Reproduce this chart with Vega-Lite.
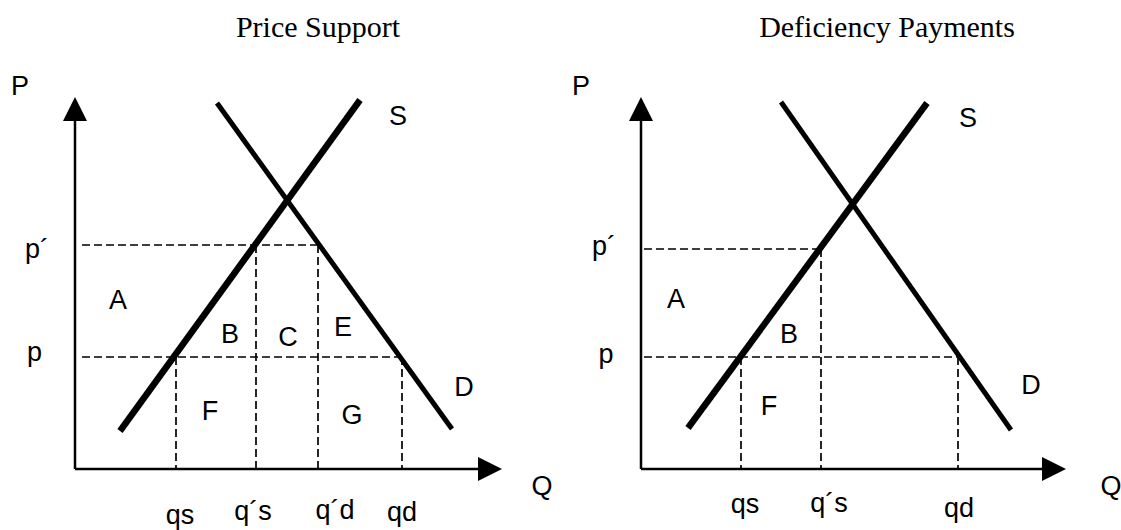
{
  "$schema": "https://vega.github.io/schema/vega-lite/v6.json",
  "padding": 0,
  "autosize": {"type": "pad"},
  "config": {"view": {"stroke": null}},
  "background": "white",
  "data": {"values": [
    {"panel": "Price Support", "kind": "axis", "q": 0, "p": 0, "q2": 41, "p2": 0},
    {"panel": "Price Support", "kind": "axis", "q": 0, "p": 0, "q2": 0, "p2": 35},
    {"panel": "Price Support", "kind": "arrowUp", "q": 0, "p": 36.0},
    {"panel": "Price Support", "kind": "arrowRight", "q": 41.5, "p": 0},
    {"panel": "Price Support", "kind": "supply", "q": 4.5, "p": 3.8, "q2": 28.5, "p2": 36.9},
    {"panel": "Price Support", "kind": "demand", "q": 14.2, "p": 36.6, "q2": 37.7, "p2": 4.0},
    {"panel": "Price Support", "kind": "dash", "q": 0.7, "p": 22.4, "q2": 24.3, "p2": 22.4},
    {"panel": "Price Support", "kind": "dash", "q": 0.7, "p": 11.2, "q2": 32.7, "p2": 11.2},
    {"panel": "Price Support", "kind": "dash", "q": 10.1, "p": 11.2, "q2": 10.1, "p2": 0},
    {"panel": "Price Support", "kind": "dash", "q": 18.1, "p": 22.4, "q2": 18.1, "p2": 0},
    {"panel": "Price Support", "kind": "dash", "q": 24.3, "p": 22.4, "q2": 24.3, "p2": 0},
    {"panel": "Price Support", "kind": "dash", "q": 32.7, "p": 11.2, "q2": 32.7, "p2": 0},
    {"panel": "Price Support", "kind": "label", "q": -5.5, "p": 37.4, "label": "P"},
    {"panel": "Price Support", "kind": "label", "q": 32.3, "p": 34.4, "label": "S"},
    {"panel": "Price Support", "kind": "label", "q": -3.8, "p": 21.1, "label": "p´"},
    {"panel": "Price Support", "kind": "label", "q": -4.05, "p": 10.8, "label": "p"},
    {"panel": "Price Support", "kind": "label", "q": 4.3, "p": 16.0, "label": "A"},
    {"panel": "Price Support", "kind": "label", "q": 15.5, "p": 12.6, "label": "B"},
    {"panel": "Price Support", "kind": "label", "q": 21.3, "p": 12.3, "label": "C"},
    {"panel": "Price Support", "kind": "label", "q": 26.8, "p": 13.3, "label": "E"},
    {"panel": "Price Support", "kind": "label", "q": 13.5, "p": 4.9, "label": "F"},
    {"panel": "Price Support", "kind": "label", "q": 27.7, "p": 4.5, "label": "G"},
    {"panel": "Price Support", "kind": "label", "q": 38.9, "p": 7.3, "label": "D"},
    {"panel": "Price Support", "kind": "label", "q": 46.7, "p": -2.6, "label": "Q"},
    {"panel": "Price Support", "kind": "label", "q": 10.5, "p": -5.5, "label": "qs"},
    {"panel": "Price Support", "kind": "label", "q": 17.8, "p": -5.1, "label": "q´s"},
    {"panel": "Price Support", "kind": "label", "q": 26.0, "p": -5.0, "label": "q´d"},
    {"panel": "Price Support", "kind": "label", "q": 32.7, "p": -5.2, "label": "qd"},
    {"panel": "Price Support", "kind": "title", "q": 24.3, "p": 43.2, "label": "Price Support"},

    {"panel": "Deficiency Payments", "kind": "axis", "q": 0, "p": 0, "q2": 41, "p2": 0},
    {"panel": "Deficiency Payments", "kind": "axis", "q": 0, "p": 0, "q2": 0, "p2": 35},
    {"panel": "Deficiency Payments", "kind": "arrowUp", "q": 0, "p": 36.0},
    {"panel": "Deficiency Payments", "kind": "arrowRight", "q": 41.3, "p": 0},
    {"panel": "Deficiency Payments", "kind": "supply", "q": 4.7, "p": 4.1, "q2": 28.6, "p2": 36.6},
    {"panel": "Deficiency Payments", "kind": "demand", "q": 14.0, "p": 36.7, "q2": 37.0, "p2": 3.9},
    {"panel": "Deficiency Payments", "kind": "dash", "q": 0.3, "p": 22.0, "q2": 18.0, "p2": 22.0},
    {"panel": "Deficiency Payments", "kind": "dash", "q": 0.3, "p": 11.2, "q2": 31.7, "p2": 11.2},
    {"panel": "Deficiency Payments", "kind": "dash", "q": 10.0, "p": 11.2, "q2": 10.0, "p2": 0},
    {"panel": "Deficiency Payments", "kind": "dash", "q": 18.0, "p": 22.0, "q2": 18.0, "p2": 0},
    {"panel": "Deficiency Payments", "kind": "dash", "q": 31.7, "p": 11.2, "q2": 31.7, "p2": 0},
    {"panel": "Deficiency Payments", "kind": "label", "q": -6.0, "p": 37.4, "label": "P"},
    {"panel": "Deficiency Payments", "kind": "label", "q": 32.7, "p": 34.2, "label": "S"},
    {"panel": "Deficiency Payments", "kind": "label", "q": -3.7, "p": 21.4, "label": "p´"},
    {"panel": "Deficiency Payments", "kind": "label", "q": -3.5, "p": 10.6, "label": "p"},
    {"panel": "Deficiency Payments", "kind": "label", "q": 3.5, "p": 16.1, "label": "A"},
    {"panel": "Deficiency Payments", "kind": "label", "q": 14.8, "p": 12.6, "label": "B"},
    {"panel": "Deficiency Payments", "kind": "label", "q": 12.8, "p": 5.4, "label": "F"},
    {"panel": "Deficiency Payments", "kind": "label", "q": 39.0, "p": 7.5, "label": "D"},
    {"panel": "Deficiency Payments", "kind": "label", "q": 47.0, "p": -2.6, "label": "Q"},
    {"panel": "Deficiency Payments", "kind": "label", "q": 10.4, "p": -4.4, "label": "qs"},
    {"panel": "Deficiency Payments", "kind": "label", "q": 18.8, "p": -4.3, "label": "q´s"},
    {"panel": "Deficiency Payments", "kind": "label", "q": 31.8, "p": -4.8, "label": "qd"},
    {"panel": "Deficiency Payments", "kind": "title", "q": 24.6, "p": 43.2, "label": "Deficiency Payments"}
  ]},
  "facet": {"column": {"field": "panel", "type": "nominal", "header": null, "sort": ["Price Support", "Deficiency Payments"]}},
  "spacing": 10,
  "spec": {
    "width": 555,
    "height": 530,
    "encoding": {
      "x": {"field": "q", "type": "quantitative", "axis": null, "scale": {"domain": [-7.5, 48], "nice": false, "zero": false}},
      "y": {"field": "p", "type": "quantitative", "axis": null, "scale": {"domain": [-6.1, 46.9], "nice": false, "zero": false}}
    },
    "layer": [
      {
        "transform": [{"filter": "datum.kind === 'dash'"}],
        "mark": {"type": "rule", "color": "black", "strokeWidth": 1.7, "strokeDash": [8, 4]},
        "encoding": {"x2": {"field": "q2"}, "y2": {"field": "p2"}}
      },
      {
        "transform": [{"filter": "datum.kind === 'axis'"}],
        "mark": {"type": "rule", "color": "black", "strokeWidth": 2.5},
        "encoding": {"x2": {"field": "q2"}, "y2": {"field": "p2"}}
      },
      {
        "transform": [{"filter": "datum.kind === 'supply'"}],
        "mark": {"type": "rule", "color": "black", "strokeWidth": 6.5},
        "encoding": {"x2": {"field": "q2"}, "y2": {"field": "p2"}}
      },
      {
        "transform": [{"filter": "datum.kind === 'demand'"}],
        "mark": {"type": "rule", "color": "black", "strokeWidth": 5},
        "encoding": {"x2": {"field": "q2"}, "y2": {"field": "p2"}}
      },
      {
        "transform": [{"filter": "datum.kind === 'arrowUp'"}],
        "mark": {"type": "point", "shape": "M0,-1L1,1L-1,1Z", "size": 576, "filled": true, "color": "black", "opacity": 1}
      },
      {
        "transform": [{"filter": "datum.kind === 'arrowRight'"}],
        "mark": {"type": "point", "shape": "M1,0L-1,1L-1,-1Z", "size": 576, "filled": true, "color": "black", "opacity": 1}
      },
      {
        "transform": [{"filter": "datum.kind === 'label'"}],
        "mark": {"type": "text", "font": "Liberation Sans", "fontSize": 27, "align": "center", "baseline": "alphabetic", "color": "black"},
        "encoding": {"text": {"field": "label"}}
      },
      {
        "transform": [{"filter": "datum.kind === 'title'"}],
        "mark": {"type": "text", "font": "Liberation Serif", "fontSize": 30, "align": "center", "baseline": "alphabetic", "color": "black"},
        "encoding": {"text": {"field": "label"}}
      }
    ]
  }
}
